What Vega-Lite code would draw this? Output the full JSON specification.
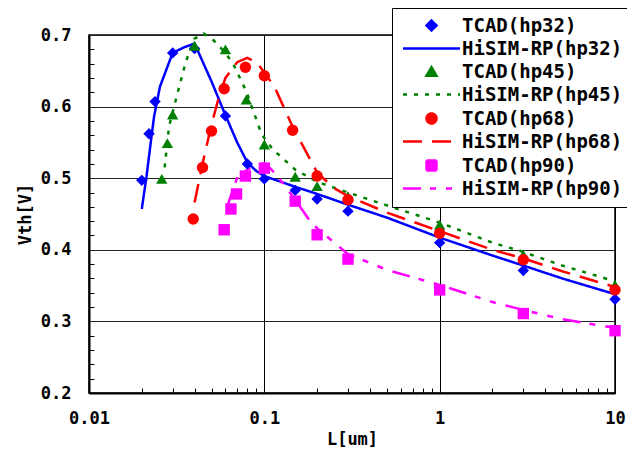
{
  "$schema": "https://vega.github.io/schema/vega-lite/v6.json",
  "width": 526,
  "height": 358,
  "autosize": "none",
  "padding": {"left": 89, "top": 35, "right": 12, "bottom": 74},
  "background": "white",
  "config": {
    "view": {"stroke": "black", "strokeWidth": 1.5},
    "font": "DejaVu Sans Mono"
  },
  "datasets": {
    "tcad": [
      {"series": "TCAD(hp32)", "L": 0.02, "V": 0.497},
      {"series": "TCAD(hp32)", "L": 0.022, "V": 0.562},
      {"series": "TCAD(hp32)", "L": 0.0238, "V": 0.607},
      {"series": "TCAD(hp32)", "L": 0.03, "V": 0.675},
      {"series": "TCAD(hp32)", "L": 0.04, "V": 0.681},
      {"series": "TCAD(hp32)", "L": 0.06, "V": 0.587},
      {"series": "TCAD(hp32)", "L": 0.08, "V": 0.52},
      {"series": "TCAD(hp32)", "L": 0.1, "V": 0.499},
      {"series": "TCAD(hp32)", "L": 0.15, "V": 0.483},
      {"series": "TCAD(hp32)", "L": 0.2, "V": 0.471},
      {"series": "TCAD(hp32)", "L": 0.3, "V": 0.454},
      {"series": "TCAD(hp32)", "L": 1, "V": 0.41},
      {"series": "TCAD(hp32)", "L": 3, "V": 0.371},
      {"series": "TCAD(hp32)", "L": 10, "V": 0.331},
      {"series": "TCAD(hp45)", "L": 0.026, "V": 0.499},
      {"series": "TCAD(hp45)", "L": 0.028, "V": 0.549},
      {"series": "TCAD(hp45)", "L": 0.03, "V": 0.589},
      {"series": "TCAD(hp45)", "L": 0.04, "V": 0.685},
      {"series": "TCAD(hp45)", "L": 0.06, "V": 0.68},
      {"series": "TCAD(hp45)", "L": 0.079, "V": 0.61},
      {"series": "TCAD(hp45)", "L": 0.1, "V": 0.547},
      {"series": "TCAD(hp45)", "L": 0.15, "V": 0.502},
      {"series": "TCAD(hp45)", "L": 0.2, "V": 0.489},
      {"series": "TCAD(hp45)", "L": 0.3, "V": 0.475},
      {"series": "TCAD(hp45)", "L": 1, "V": 0.435},
      {"series": "TCAD(hp45)", "L": 3, "V": 0.393},
      {"series": "TCAD(hp45)", "L": 10, "V": 0.351},
      {"series": "TCAD(hp68)", "L": 0.0393, "V": 0.443},
      {"series": "TCAD(hp68)", "L": 0.0444, "V": 0.515},
      {"series": "TCAD(hp68)", "L": 0.05, "V": 0.566},
      {"series": "TCAD(hp68)", "L": 0.059, "V": 0.625},
      {"series": "TCAD(hp68)", "L": 0.078, "V": 0.655},
      {"series": "TCAD(hp68)", "L": 0.1, "V": 0.643},
      {"series": "TCAD(hp68)", "L": 0.145, "V": 0.567},
      {"series": "TCAD(hp68)", "L": 0.2, "V": 0.503},
      {"series": "TCAD(hp68)", "L": 0.3, "V": 0.47},
      {"series": "TCAD(hp68)", "L": 1, "V": 0.423},
      {"series": "TCAD(hp68)", "L": 3, "V": 0.386},
      {"series": "TCAD(hp68)", "L": 10, "V": 0.344},
      {"series": "TCAD(hp90)", "L": 0.059, "V": 0.428},
      {"series": "TCAD(hp90)", "L": 0.0645, "V": 0.457},
      {"series": "TCAD(hp90)", "L": 0.0694, "V": 0.478},
      {"series": "TCAD(hp90)", "L": 0.078, "V": 0.503},
      {"series": "TCAD(hp90)", "L": 0.1, "V": 0.514},
      {"series": "TCAD(hp90)", "L": 0.15, "V": 0.468},
      {"series": "TCAD(hp90)", "L": 0.2, "V": 0.421},
      {"series": "TCAD(hp90)", "L": 0.3, "V": 0.387},
      {"series": "TCAD(hp90)", "L": 1, "V": 0.344},
      {"series": "TCAD(hp90)", "L": 3, "V": 0.311},
      {"series": "TCAD(hp90)", "L": 10, "V": 0.287}
    ],
    "hisim": [
      {"series": "HiSIM-RP(hp32)", "L": 0.02, "V": 0.457},
      {"series": "HiSIM-RP(hp32)", "L": 0.0213, "V": 0.503},
      {"series": "HiSIM-RP(hp32)", "L": 0.0225, "V": 0.55},
      {"series": "HiSIM-RP(hp32)", "L": 0.0235, "V": 0.586},
      {"series": "HiSIM-RP(hp32)", "L": 0.0254, "V": 0.628},
      {"series": "HiSIM-RP(hp32)", "L": 0.03, "V": 0.675},
      {"series": "HiSIM-RP(hp32)", "L": 0.035, "V": 0.683},
      {"series": "HiSIM-RP(hp32)", "L": 0.04, "V": 0.688},
      {"series": "HiSIM-RP(hp32)", "L": 0.05, "V": 0.635},
      {"series": "HiSIM-RP(hp32)", "L": 0.06, "V": 0.588},
      {"series": "HiSIM-RP(hp32)", "L": 0.07, "V": 0.55},
      {"series": "HiSIM-RP(hp32)", "L": 0.08, "V": 0.522},
      {"series": "HiSIM-RP(hp32)", "L": 0.09, "V": 0.51},
      {"series": "HiSIM-RP(hp32)", "L": 0.1, "V": 0.503},
      {"series": "HiSIM-RP(hp32)", "L": 0.15, "V": 0.488},
      {"series": "HiSIM-RP(hp32)", "L": 0.2, "V": 0.478},
      {"series": "HiSIM-RP(hp32)", "L": 0.3, "V": 0.463},
      {"series": "HiSIM-RP(hp32)", "L": 0.5, "V": 0.445},
      {"series": "HiSIM-RP(hp32)", "L": 1, "V": 0.417},
      {"series": "HiSIM-RP(hp32)", "L": 2, "V": 0.392},
      {"series": "HiSIM-RP(hp32)", "L": 3, "V": 0.378},
      {"series": "HiSIM-RP(hp32)", "L": 5, "V": 0.36},
      {"series": "HiSIM-RP(hp32)", "L": 10, "V": 0.338},
      {"series": "HiSIM-RP(hp45)", "L": 0.027, "V": 0.515},
      {"series": "HiSIM-RP(hp45)", "L": 0.0286, "V": 0.572},
      {"series": "HiSIM-RP(hp45)", "L": 0.0316, "V": 0.614},
      {"series": "HiSIM-RP(hp45)", "L": 0.0357, "V": 0.663},
      {"series": "HiSIM-RP(hp45)", "L": 0.04, "V": 0.695},
      {"series": "HiSIM-RP(hp45)", "L": 0.045, "V": 0.702},
      {"series": "HiSIM-RP(hp45)", "L": 0.0507, "V": 0.694},
      {"series": "HiSIM-RP(hp45)", "L": 0.06, "V": 0.675},
      {"series": "HiSIM-RP(hp45)", "L": 0.0663, "V": 0.66},
      {"series": "HiSIM-RP(hp45)", "L": 0.079, "V": 0.621},
      {"series": "HiSIM-RP(hp45)", "L": 0.0966, "V": 0.561},
      {"series": "HiSIM-RP(hp45)", "L": 0.112, "V": 0.54},
      {"series": "HiSIM-RP(hp45)", "L": 0.15, "V": 0.512},
      {"series": "HiSIM-RP(hp45)", "L": 0.2, "V": 0.495},
      {"series": "HiSIM-RP(hp45)", "L": 0.3, "V": 0.48},
      {"series": "HiSIM-RP(hp45)", "L": 0.5, "V": 0.462},
      {"series": "HiSIM-RP(hp45)", "L": 1, "V": 0.438},
      {"series": "HiSIM-RP(hp45)", "L": 2, "V": 0.41},
      {"series": "HiSIM-RP(hp45)", "L": 3, "V": 0.397},
      {"series": "HiSIM-RP(hp45)", "L": 5, "V": 0.378},
      {"series": "HiSIM-RP(hp45)", "L": 10, "V": 0.356},
      {"series": "HiSIM-RP(hp68)", "L": 0.04, "V": 0.466},
      {"series": "HiSIM-RP(hp68)", "L": 0.0444, "V": 0.52},
      {"series": "HiSIM-RP(hp68)", "L": 0.05, "V": 0.575},
      {"series": "HiSIM-RP(hp68)", "L": 0.055, "V": 0.613},
      {"series": "HiSIM-RP(hp68)", "L": 0.06, "V": 0.64},
      {"series": "HiSIM-RP(hp68)", "L": 0.07, "V": 0.662},
      {"series": "HiSIM-RP(hp68)", "L": 0.08, "V": 0.668},
      {"series": "HiSIM-RP(hp68)", "L": 0.09, "V": 0.662},
      {"series": "HiSIM-RP(hp68)", "L": 0.1, "V": 0.648},
      {"series": "HiSIM-RP(hp68)", "L": 0.115, "V": 0.626},
      {"series": "HiSIM-RP(hp68)", "L": 0.145, "V": 0.572},
      {"series": "HiSIM-RP(hp68)", "L": 0.2, "V": 0.508},
      {"series": "HiSIM-RP(hp68)", "L": 0.25, "V": 0.486},
      {"series": "HiSIM-RP(hp68)", "L": 0.3, "V": 0.475},
      {"series": "HiSIM-RP(hp68)", "L": 0.5, "V": 0.452},
      {"series": "HiSIM-RP(hp68)", "L": 1, "V": 0.426},
      {"series": "HiSIM-RP(hp68)", "L": 2, "V": 0.4},
      {"series": "HiSIM-RP(hp68)", "L": 3, "V": 0.388},
      {"series": "HiSIM-RP(hp68)", "L": 5, "V": 0.37},
      {"series": "HiSIM-RP(hp68)", "L": 10, "V": 0.348},
      {"series": "HiSIM-RP(hp90)", "L": 0.061, "V": 0.458},
      {"series": "HiSIM-RP(hp90)", "L": 0.065, "V": 0.478},
      {"series": "HiSIM-RP(hp90)", "L": 0.0705, "V": 0.503},
      {"series": "HiSIM-RP(hp90)", "L": 0.08, "V": 0.512},
      {"series": "HiSIM-RP(hp90)", "L": 0.09, "V": 0.518},
      {"series": "HiSIM-RP(hp90)", "L": 0.1, "V": 0.521},
      {"series": "HiSIM-RP(hp90)", "L": 0.11, "V": 0.512},
      {"series": "HiSIM-RP(hp90)", "L": 0.123, "V": 0.498},
      {"series": "HiSIM-RP(hp90)", "L": 0.15, "V": 0.47},
      {"series": "HiSIM-RP(hp90)", "L": 0.18, "V": 0.442},
      {"series": "HiSIM-RP(hp90)", "L": 0.2, "V": 0.43},
      {"series": "HiSIM-RP(hp90)", "L": 0.3, "V": 0.394},
      {"series": "HiSIM-RP(hp90)", "L": 0.5, "V": 0.372},
      {"series": "HiSIM-RP(hp90)", "L": 1, "V": 0.351},
      {"series": "HiSIM-RP(hp90)", "L": 2, "V": 0.327},
      {"series": "HiSIM-RP(hp90)", "L": 3, "V": 0.316},
      {"series": "HiSIM-RP(hp90)", "L": 5, "V": 0.303},
      {"series": "HiSIM-RP(hp90)", "L": 10, "V": 0.291}
    ]
  },
  "resolve": {"axis": {"x": "independent", "y": "independent"}},
  "encoding": {
    "color": {
      "field": "series", "type": "nominal",
      "scale": {
        "domain": ["TCAD(hp32)", "HiSIM-RP(hp32)", "TCAD(hp45)", "HiSIM-RP(hp45)", "TCAD(hp68)", "HiSIM-RP(hp68)", "TCAD(hp90)", "HiSIM-RP(hp90)"],
        "range": ["#0000ff", "#0000ff", "#008000", "#008000", "#ff0000", "#ff0000", "#ff00ff", "#ff00ff"]
      },
      "legend": {
        "title": null,
        "orient": "none", "legendX": 303, "legendY": -27,
        "strokeColor": "black", "fillColor": "white", "padding": 8,
        "symbolSize": 100, "symbolStrokeWidth": 2.5, "symbolOffset": 22,
        "labelFont": "DejaVu Sans Mono", "labelFontSize": 19, "labelFontWeight": "bold", "labelColor": "black",
        "labelOffset": 21, "rowPadding": 3, "labelLimit": 300
      }
    }
  },
  "layer": [
    {
      "data": {"name": "hisim"},
      "mark": {"type": "line", "strokeWidth": 2.5},
      "encoding": {
        "x": {
          "field": "L", "type": "quantitative",
          "scale": {"type": "log", "domain": [0.01, 10], "nice": false},
          "axis": {
            "orient": "bottom",
            "title": "L[um]",
            "titleFont": "DejaVu Sans Mono", "titleFontSize": 17, "titleFontWeight": "bold", "titleColor": "black",
            "titlePadding": 5,
            "values": [0.01, 0.1, 1, 10],
            "format": "~g",
            "labelFont": "DejaVu Sans Mono", "labelFontSize": 17, "labelFontWeight": "bold", "labelColor": "black",
            "labelFlush": false, "labelOverlap": false, "labelPadding": 17,
            "grid": true, "gridColor": "black", "gridWidth": 1,
            "ticks": false,
            "domainColor": "black", "domainWidth": 2
          }
        },
        "y": {
          "field": "V", "type": "quantitative",
          "scale": {"domain": [0.2, 0.7], "nice": false, "zero": false},
          "axis": {
            "orient": "left",
            "title": "Vth[V]",
            "titleFont": "DejaVu Sans Mono", "titleFontSize": 17, "titleFontWeight": "bold", "titleColor": "black",
            "titlePadding": 6,
            "values": [0.2, 0.3, 0.4, 0.5, 0.6, 0.7],
            "format": ".1f",
            "labelFont": "DejaVu Sans Mono", "labelFontSize": 17, "labelFontWeight": "bold", "labelColor": "black",
            "labelFlush": false, "labelOverlap": false, "labelPadding": 18,
            "grid": true, "gridColor": "#222", "gridWidth": 1,
            "ticks": false,
            "domainColor": "black", "domainWidth": 2
          }
        },
        "strokeDash": {
          "field": "series", "type": "nominal",
          "scale": {
            "domain": ["TCAD(hp32)", "HiSIM-RP(hp32)", "TCAD(hp45)", "HiSIM-RP(hp45)", "TCAD(hp68)", "HiSIM-RP(hp68)", "TCAD(hp90)", "HiSIM-RP(hp90)"],
            "range": [[1,0], [1,0], [1,0], [4,7], [1,0], [19,10], [1,0], [18,9,6,10,6,10]]
          },
          "legend": null
        }
      }
    },
    {
      "data": {"name": "tcad"},
      "mark": {"type": "point", "filled": true, "opacity": 1, "size": 130},
      "encoding": {
        "x": {
          "field": "L", "type": "quantitative",
          "axis": {
            "orient": "bottom", "offset": -5, "title": null,
            "values": [0.02,0.03,0.04,0.05,0.06,0.07,0.08,0.09,0.2,0.3,0.4,0.5,0.6,0.7,0.8,0.9,2,3,4,5,6,7,8,9],
            "labels": false, "grid": false, "domain": false,
            "tickSize": 5, "tickColor": "black", "tickWidth": 1
          }
        },
        "y": {
          "field": "V", "type": "quantitative",
          "axis": {
            "orient": "left", "offset": -5, "title": null,
            "values": [0.22,0.24,0.26,0.28,0.32,0.34,0.36,0.38,0.42,0.44,0.46,0.48,0.52,0.54,0.56,0.58,0.62,0.64,0.66,0.68],
            "labels": false, "grid": false, "domain": false,
            "tickSize": 5, "tickColor": "black", "tickWidth": 1
          }
        },
        "shape": {
          "field": "series", "type": "nominal",
          "scale": {
            "domain": ["TCAD(hp32)", "HiSIM-RP(hp32)", "TCAD(hp45)", "HiSIM-RP(hp45)", "TCAD(hp68)", "HiSIM-RP(hp68)", "TCAD(hp90)", "HiSIM-RP(hp90)"],
            "range": ["diamond", "M-5.7,0H5.7", "triangle-up", "M-5.7,0H5.7", "circle", "M-5.7,0H5.7", "square", "M-5.7,0H5.7"]
          },
          "legend": null
        }
      }
    }
  ]
}
